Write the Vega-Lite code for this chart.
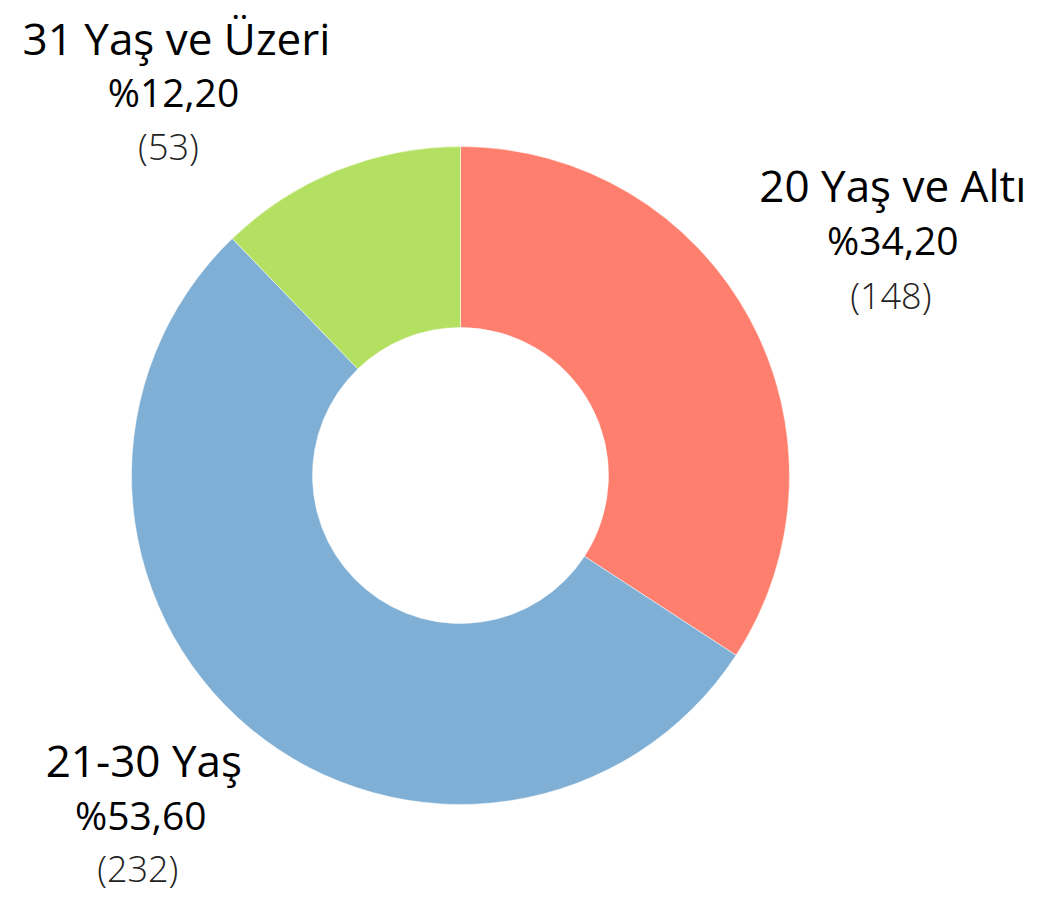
{
  "$schema": "https://vega.github.io/schema/vega-lite/v6.json",
  "autosize": {"type": "none"},
  "width": 921,
  "height": 869,
  "padding": {"left": 0, "top": 41, "right": 120, "bottom": 0},
  "background": "white",
  "config": {"view": {"stroke": null}},
  "data": {
    "values": [
      {"cat": "20 Yaş ve Altı", "share": 34.2, "count": 148},
      {"cat": "21-30 Yaş", "share": 53.6, "count": 232},
      {"cat": "31 Yaş ve Üzeri", "share": 12.2, "count": 53}
    ]
  },
  "transform": [
    {"calculate": "'%' + replace(format(datum.share, '.2f'), '.', ',')", "as": "pct"},
    {"calculate": "'(' + datum.count + ')'", "as": "cnt"}
  ],
  "encoding": {
    "theta": {"field": "share", "type": "quantitative", "stack": true},
    "order": {"field": "cat", "type": "nominal", "sort": "ascending"}
  },
  "layer": [
    {
      "mark": {"type": "arc", "innerRadius": 148, "outerRadius": 329, "stroke": "#ffffff", "strokeWidth": 0.5},
      "encoding": {
        "color": {
          "field": "cat", "type": "nominal", "legend": null,
          "scale": {"domain": ["20 Yaş ve Altı", "21-30 Yaş", "31 Yaş ve Üzeri"], "range": ["#FF7F6E", "#7FAFD5", "#B3E061"]}
        }
      }
    },
    {
      "mark": {"type": "text", "radius": 420, "font": "Open Sans", "fontSize": 44, "fontWeight": "normal", "fill": "#000000", "align": "center", "baseline": "alphabetic", "dx": 63, "dy": -73},
      "encoding": {"detail": {"field": "cat"}, "text": {"condition": {"test": "datum.cat === '20 Yaş ve Altı'", "field": "cat"}, "value": ""}}
    },
    {
      "mark": {"type": "text", "radius": 420, "font": "Open Sans", "fontSize": 39, "fontWeight": "normal", "fill": "#000000", "align": "center", "baseline": "alphabetic", "dx": 63, "dy": -20},
      "encoding": {"detail": {"field": "cat"}, "text": {"condition": {"test": "datum.cat === '20 Yaş ve Altı'", "field": "pct"}, "value": ""}}
    },
    {
      "mark": {"type": "text", "radius": 420, "font": "Open Sans", "fontSize": 36, "fontWeight": 300, "fill": "#222222", "align": "center", "baseline": "alphabetic", "dx": 61, "dy": 34},
      "encoding": {"detail": {"field": "cat"}, "text": {"condition": {"test": "datum.cat === '20 Yaş ve Altı'", "field": "cnt"}, "value": ""}}
    },
    {
      "mark": {"type": "text", "radius": 420, "font": "Open Sans", "fontSize": 44, "fontWeight": "normal", "fill": "#000000", "align": "center", "baseline": "alphabetic", "dx": -49, "dy": -22},
      "encoding": {"detail": {"field": "cat"}, "text": {"condition": {"test": "datum.cat === '21-30 Yaş'", "field": "cat"}, "value": ""}}
    },
    {
      "mark": {"type": "text", "radius": 420, "font": "Open Sans", "fontSize": 39, "fontWeight": "normal", "fill": "#000000", "align": "center", "baseline": "alphabetic", "dx": -52, "dy": 31},
      "encoding": {"detail": {"field": "cat"}, "text": {"condition": {"test": "datum.cat === '21-30 Yaş'", "field": "pct"}, "value": ""}}
    },
    {
      "mark": {"type": "text", "radius": 420, "font": "Open Sans", "fontSize": 36, "fontWeight": 300, "fill": "#222222", "align": "center", "baseline": "alphabetic", "dx": -55, "dy": 83},
      "encoding": {"detail": {"field": "cat"}, "text": {"condition": {"test": "datum.cat === '21-30 Yaş'", "field": "cnt"}, "value": ""}}
    },
    {
      "mark": {"type": "text", "radius": 420, "font": "Open Sans", "fontSize": 44, "fontWeight": "normal", "fill": "#000000", "align": "center", "baseline": "alphabetic", "dx": -127, "dy": -31},
      "encoding": {"detail": {"field": "cat"}, "text": {"condition": {"test": "datum.cat === '31 Yaş ve Üzeri'", "field": "cat"}, "value": ""}}
    },
    {
      "mark": {"type": "text", "radius": 420, "font": "Open Sans", "fontSize": 39, "fontWeight": "normal", "fill": "#000000", "align": "center", "baseline": "alphabetic", "dx": -130, "dy": 21},
      "encoding": {"detail": {"field": "cat"}, "text": {"condition": {"test": "datum.cat === '31 Yaş ve Üzeri'", "field": "pct"}, "value": ""}}
    },
    {
      "mark": {"type": "text", "radius": 420, "font": "Open Sans", "fontSize": 36, "fontWeight": 300, "fill": "#222222", "align": "center", "baseline": "alphabetic", "dx": -135, "dy": 74},
      "encoding": {"detail": {"field": "cat"}, "text": {"condition": {"test": "datum.cat === '31 Yaş ve Üzeri'", "field": "cnt"}, "value": ""}}
    }
  ]
}
